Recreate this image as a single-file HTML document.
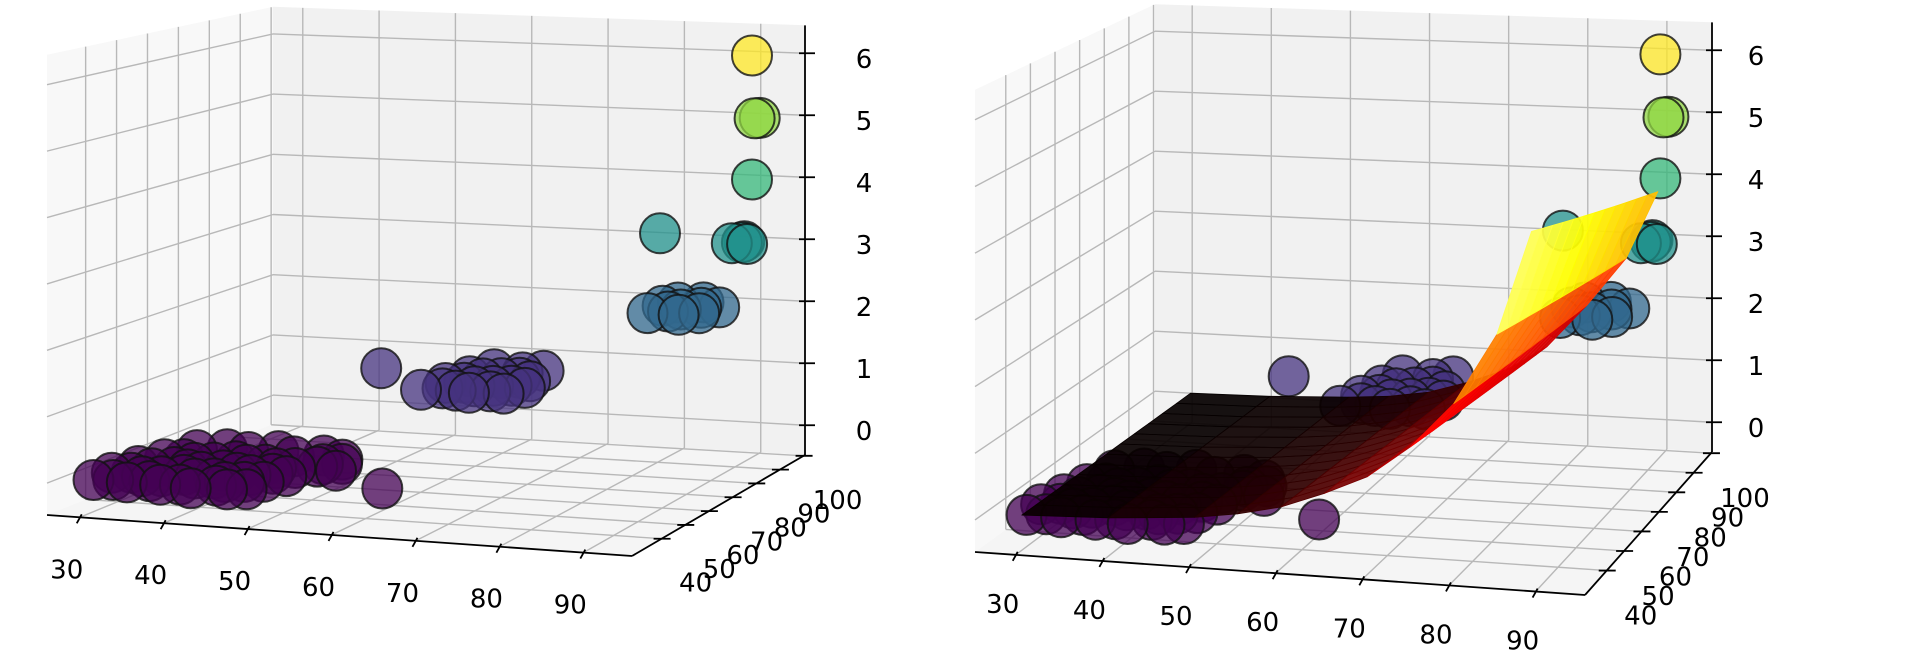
<!DOCTYPE html>
<html><head><meta charset="utf-8">
<style>
html,body{margin:0;padding:0;background:#fff;}
svg{display:block;}
text{font-family:"DejaVu Sans","Liberation Sans",sans-serif;font-size:26px;fill:#000;}
</style></head>
<body>
<svg id="chart" width="1920" height="670" viewBox="0 0 1920 670" xmlns="http://www.w3.org/2000/svg">
<g id="left"></g>
<g id="right"></g>
</svg>
<script>
// ---- data ----
const xTicks = [30,40,50,60,70,80,90];
const yTicks = [40,50,60,70,80,90,100];
const zTicks = [0,1,2,3,4,5,6];
const pointX = [30,32,34,36,38,40,42,44,46,48, 30,32,34,36,38,40,42,44,46,48, 31,33,35,37,39,41,43,45,47,49, 32,34,36,38,40,42,44,46,48,50, 50,52,53,51,62,
  33,36,39,42,45,48,
  58,60,62,64,66,68,59,61,63,65,67,69,60,62,64,66,68,61,65,67,48,
  80,82,84,85,81,83,86,87,80,84,
  88,89,89,90,77, 90, 91,90.5, 90];
const pointY = [32,33,32,34,32,33,31,34,32,33, 38,39,37,38,40,38,39,37,38,39, 44,43,45,44,43,45,44,43,45,44, 50,51,49,50,52,50,51,49,50,52, 54,55,50,58,40,
  58,60,59,61,58,60,
  66,68,67,66,68,67,72,73,71,72,73,72,78,77,78,79,77,84,83,85,80,
  86,88,86,92,95,90,88,93,92,96,
  95,96,97,95,100, 97, 97,96.5, 97];
const pointZ = [0,0,0,0,0,0,0,0,0,0, 0,0,0,0,0,0,0,0,0,0, 0,0,0,0,0,0,0,0,0,0, 0,0,0,0,0,0,0,0,0,0, 0,0,0,0,0,
  0,0,0,0,0,0,
  1,1,1,1,1,1,1,1,1,1,1,1,1,1,1,1,1,1,1,1,1,
  2,2,2,2,2,2,2,2,2,2,
  3,3,3,3,3, 4, 5,5, 6];
const surfX = [30,40,50,55,60,65,70,75,80,85,89];
const surfZFront = [0.05,0.1,0.2,0.3,0.45,0.7,1.0,1.5,2.2,3.3,4.9];
const surfZBack = [0.02,0.04,0.1,0.15,0.25,0.45,0.7,1.1,1.8,2.6,3.7];
const surfY = [30,100];

const viridis = ['#440154','#46337f','#31688e','#21918c','#35b779','#90d743','#fde725'];
const NS = 'http://www.w3.org/2000/svg';

const cfgL = {x0:26.1,x1:95.8,y0:27.5,y1:100.6,z0:-0.48,z1:6.45,
  FL:[47,515],FR:[632,556],BL:[273,424],BR:[805,455],sFL:66.4,sFR:65,sBL:60.2,sBR:62,
  xlab:[-13,61],ylab:[34,53],zlabX:864,zlabDy:15};
const cfgR = {x0:25.3,x1:95.7,y0:27.5,y1:100.6,z0:-0.48,z1:6.45,
  FL:[975,552],FR:[1585,595],BL:[1155,420],BR:[1712,452],sFL:66.7,sFR:66,sBL:60,sBR:62,
  xlab:[-13,58],ylab:[34,54],zlabX:1756,zlabDy:15};

function lerp(a,b,t){return [a[0]+(b[0]-a[0])*t,a[1]+(b[1]-a[1])*t];}
function proj(c,x,y,z){
  const u=(x-c.x0)/(c.x1-c.x0), v=(y-c.y0)/(c.y1-c.y0);
  const p=lerp(lerp(c.FL,c.FR,u),lerp(c.BL,c.BR,u),v);
  const sf=c.sFL+(c.sFR-c.sFL)*u, sb=c.sBL+(c.sBR-c.sBL)*u, s=sf+(sb-sf)*v;
  return [p[0],p[1]-(z-c.z0)*s];
}
function el(parent,tag,attrs){const e=document.createElementNS(NS,tag);for(const k in attrs)e.setAttribute(k,attrs[k]);parent.appendChild(e);return e;}
function pts(arr){return arr.map(p=>p[0].toFixed(1)+','+p[1].toFixed(1)).join(' ');}
function hot(t){t=Math.max(0,Math.min(1,t));
  const r=Math.min(1,t/0.365),g=Math.max(0,Math.min(1,(t-0.365)/0.381)),b=Math.max(0,Math.min(1,(t-0.746)/0.254));
  return 'rgb('+Math.round(r*255)+','+Math.round(g*255)+','+Math.round(b*255)+')';}

function drawPanel(g,c,withSurface){
  const P=(x,y,z)=>proj(c,x,y,z);
  let e=el(g,'polygon',{points:pts([P(c.x0,c.y0,c.z0),P(c.x0,c.y0,c.z1),P(c.x0,c.y1,c.z1),P(c.x0,c.y1,c.z0)]),fill:'#f8f8f8',stroke:'none'});
  
  
  e=el(g,'polygon',{points:pts([P(c.x0,c.y1,c.z0),P(c.x1,c.y1,c.z0),P(c.x1,c.y1,c.z1),P(c.x0,c.y1,c.z1)]),fill:'#f1f1f1',stroke:'none'});
  
  
  e=el(g,'polygon',{points:pts([P(c.x0,c.y0,c.z0),P(c.x1,c.y0,c.z0),P(c.x1,c.y1,c.z0),P(c.x0,c.y1,c.z0)]),fill:'#f5f5f5',stroke:'none'});
  
  
  const grid=el(g,'g',{stroke:'#b8b8b8','stroke-width':1.4,fill:'none'});
  
  
  const line=(a,b)=>el(grid,'line',{x1:a[0],y1:a[1],x2:b[0],y2:b[1]});
  xTicks.forEach(x=>{line(P(x,c.y1,c.z0),P(x,c.y1,c.z1));line(P(x,c.y0,c.z0),P(x,c.y1,c.z0));});
  yTicks.forEach(y=>{line(P(c.x0,y,c.z0),P(c.x0,y,c.z1));line(P(c.x0,y,c.z0),P(c.x1,y,c.z0));});
  zTicks.forEach(z=>{line(P(c.x0,c.y1,z),P(c.x1,c.y1,z));line(P(c.x0,c.y0,z),P(c.x0,c.y1,z));});
  const ax=el(g,'g',{stroke:'#000','stroke-width':1.8,fill:'none'});
  
  
  const al=(a,b)=>el(ax,'line',{x1:a[0],y1:a[1],x2:b[0],y2:b[1]});
  al(P(c.x0,c.y0,c.z0),P(c.x1,c.y0,c.z0));
  al(P(c.x1,c.y0,c.z0),P(c.x1,c.y1,c.z0));
  al(P(c.x1,c.y1,c.z0),P(c.x1,c.y1,c.z1));
  xTicks.forEach(x=>{const p=P(x,c.y0,c.z0);al([p[0]+2,p[1]-3],[p[0]-3,p[1]+6]);
    const t=el(g,'text',{x:p[0]+c.xlab[0],y:p[1]+c.xlab[1],'text-anchor':'middle'});t.textContent=x;
    
    });
  yTicks.forEach(y=>{const p=P(c.x1,y,c.z0);al([p[0]-8,p[1]],[p[0]+9,p[1]]);
    const t=el(g,'text',{x:p[0]+c.ylab[0],y:p[1]+c.ylab[1],'text-anchor':'middle'});t.textContent=y;
    
    });
  zTicks.forEach(z=>{const p=P(c.x1,c.y1,z);al([p[0]-6,p[1]],[p[0]+10,p[1]]);
    const t=el(g,'text',{x:c.zlabX,y:p[1]+c.zlabDy,'text-anchor':'middle'});t.textContent=z;
    
    });
  const idx=pointX.map((_,i)=>i).sort((a,b)=>(pointY[b]-pointY[a])||(pointZ[a]-pointZ[b]));
  const sg=el(g,'g',{});
  
  
  idx.forEach(i=>{const p=P(pointX[i],pointY[i],pointZ[i]);
    const ci=el(sg,'circle',{cx:p[0].toFixed(1),cy:p[1].toFixed(1),r:20,fill:viridis[pointZ[i]],'fill-opacity':0.75,stroke:'#111','stroke-opacity':0.8,'stroke-width':2});
    
    });
  if(withSurface){
    const sgs=el(g,'g',{});
    
    
    const zmax=Math.max(...surfZFront,...surfZBack);
    const NY=12;
    const zAt=(i,j)=>surfZFront[i]+(surfZBack[i]-surfZFront[i])*j/NY;
    const yAt=j=>surfY[0]+(surfY[1]-surfY[0])*j/NY;
    for(let j=NY-1;j>=0;j--){
      for(let i=0;i<surfX.length-1;i++){
        const q=[P(surfX[i],yAt(j),zAt(i,j)),P(surfX[i+1],yAt(j),zAt(i+1,j)),P(surfX[i+1],yAt(j+1),zAt(i+1,j+1)),P(surfX[i],yAt(j+1),zAt(i,j+1))];
        const zm=(zAt(i,j)+zAt(i+1,j)+zAt(i,j+1)+zAt(i+1,j+1))/4;
        const col=hot(zm/zmax);
        const f=el(sgs,'polygon',{points:pts(q),fill:col,'fill-opacity':0.93,stroke:col,'stroke-width':0.8,'stroke-linejoin':'round'});
        
        
      }
    }
  }
}
drawPanel(document.getElementById('left'),cfgL,false);
drawPanel(document.getElementById('right'),cfgR,true);
</script>
</body></html>
